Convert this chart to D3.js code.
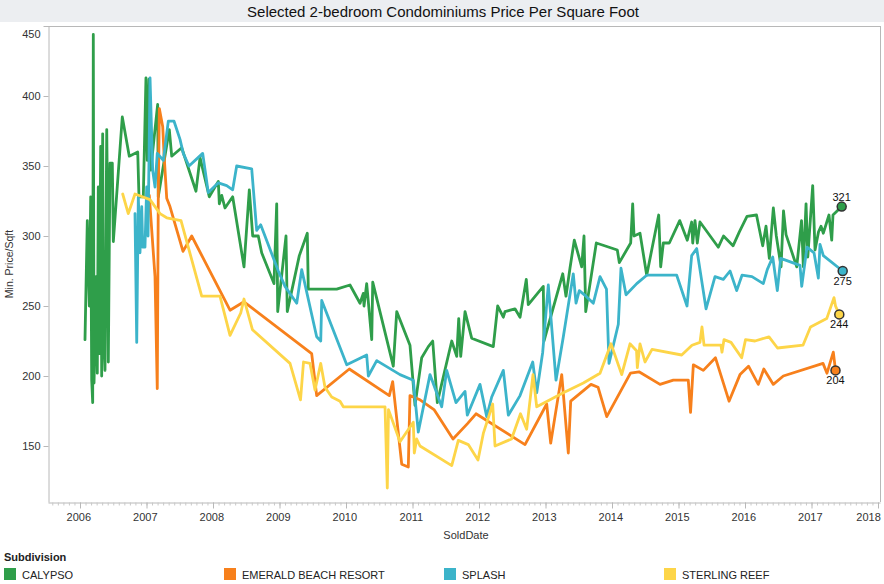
<!DOCTYPE html>
<html><head><meta charset="utf-8">
<script src="https://cdn.jsdelivr.net/npm/d3@7"></script>
<style>
html,body{margin:0;padding:0;background:#fff;}
svg{display:block;font-family:"Liberation Sans",Arial,sans-serif;}
</style></head>
<body><svg id="c" width="884" height="584"></svg>
<script>
// ---- DATA: [SoldDate as decimal year, min price per sqft] ----
const calypso = [[2006.075,226],[2006.110,311],[2006.140,250],[2006.161,328],[2006.176,197],[2006.191,181],[2006.200,444],[2006.211,195],[2006.241,271],[2006.260,202],[2006.275,335],[2006.290,216],[2006.311,364],[2006.326,200],[2006.341,373],[2006.350,238],[2006.376,204],[2006.402,376],[2006.411,335],[2006.426,210],[2006.451,352],[2006.486,352],[2006.501,296],[2006.636,385],[2006.741,357],[2006.868,360],[2006.887,328],[2006.952,328],[2006.992,413],[2007.012,354],[2007.038,412],[2007.063,347],[2007.168,394],[2007.177,328],[2007.343,376],[2007.379,357],[2007.529,363],[2007.744,332],[2007.805,356],[2007.944,328],[2008.080,339],[2008.095,323],[2008.131,329],[2008.180,320],[2008.296,328],[2008.466,278],[2008.546,333],[2008.597,300],[2008.681,300],[2008.732,288],[2008.917,266],[2008.958,323],[2008.973,246],[2009.098,300],[2009.117,246],[2009.298,286],[2009.418,302],[2009.433,262],[2009.860,262],[2010.060,265],[2010.211,252],[2010.260,259],[2010.271,250],[2010.311,266],[2010.387,226],[2010.402,267],[2010.711,207],[2010.763,246],[2010.962,222],[2011.038,179],[2011.138,213],[2011.238,221],[2011.304,225],[2011.373,181],[2011.590,225],[2011.665,214],[2011.695,241],[2011.725,214],[2011.790,246],[2011.890,227],[2012.215,221],[2012.281,250],[2012.366,242],[2012.391,246],[2012.541,248],[2012.617,242],[2012.711,269],[2012.741,251],[2012.967,264],[2012.977,225],[2013.259,273],[2013.308,257],[2013.368,277],[2013.433,297],[2013.544,278],[2013.579,300],[2013.605,246],[2013.764,295],[2014.080,290],[2014.110,281],[2014.281,295],[2014.311,323],[2014.331,300],[2014.421,302],[2014.522,272],[2014.702,315],[2014.732,278],[2014.772,295],[2014.862,295],[2015.018,311],[2015.132,297],[2015.198,310],[2015.214,295],[2015.248,311],[2015.283,295],[2015.323,310],[2015.599,292],[2015.677,300],[2015.820,293],[2015.915,303],[2016.030,314],[2016.173,315],[2016.266,293],[2016.316,307],[2016.366,284],[2016.426,320],[2016.471,300],[2016.542,278],[2016.579,318],[2016.617,301],[2016.778,278],[2016.850,311],[2016.877,278],[2016.918,323],[2016.944,285],[2017.018,336],[2017.053,290],[2017.106,303],[2017.143,307],[2017.178,302],[2017.263,315],[2017.304,297],[2017.323,315],[2017.454,321]];

const emerald = [[2007.042,329],[2007.128,271],[2007.162,191],[2007.177,325],[2007.193,391],[2007.244,378],[2007.263,359],[2007.304,327],[2007.353,321],[2007.549,289],[2007.680,300],[2008.256,247],[2008.466,253],[2009.484,216],[2009.559,186],[2010.050,205],[2010.651,186],[2010.702,196],[2010.838,137],[2010.937,135],[2010.962,186],[2011.113,183],[2011.323,176],[2011.609,155],[2011.827,166],[2011.955,173],[2012.692,151],[2013.018,180],[2013.078,152],[2013.244,201],[2013.343,145],[2013.379,182],[2013.684,194],[2013.790,192],[2013.921,171],[2014.278,202],[2014.406,203],[2014.722,194],[2014.922,197],[2015.147,197],[2015.181,174],[2015.223,208],[2015.373,204],[2015.556,213],[2015.760,182],[2015.925,201],[2016.053,207],[2016.200,194],[2016.283,205],[2016.426,194],[2016.576,200],[2017.173,209],[2017.233,202],[2017.328,217],[2017.361,204]];

const splash = [[2006.827,316],[2006.853,224],[2006.877,328],[2006.902,288],[2006.928,321],[2006.943,292],[2006.977,292],[2007.003,335],[2007.023,300],[2007.053,413],[2007.093,347],[2007.128,335],[2007.162,359],[2007.253,354],[2007.328,382],[2007.414,382],[2007.504,369],[2007.553,359],[2007.639,350],[2007.845,359],[2007.929,331],[2008.080,338],[2008.206,336],[2008.296,333],[2008.356,350],[2008.582,348],[2008.657,304],[2008.717,308],[2008.982,275],[2009.083,264],[2009.259,252],[2009.334,276],[2009.559,228],[2009.620,225],[2009.635,254],[2010.011,208],[2010.311,215],[2010.336,200],[2010.462,211],[2010.812,201],[2011.012,197],[2011.087,160],[2011.263,201],[2011.439,178],[2011.514,204],[2011.654,181],[2011.790,189],[2011.824,172],[2012.015,194],[2012.116,171],[2012.191,185],[2012.366,204],[2012.441,172],[2012.617,186],[2012.808,210],[2012.868,188],[2012.958,217],[2013.042,265],[2013.158,197],[2013.268,228],[2013.418,273],[2013.459,252],[2013.508,261],[2013.609,257],[2013.719,252],[2013.820,271],[2013.917,262],[2013.955,209],[2014.095,237],[2014.135,277],[2014.211,258],[2014.372,266],[2014.522,272],[2014.973,272],[2015.128,250],[2015.198,286],[2015.274,291],[2015.323,276],[2015.414,248],[2015.549,271],[2015.674,269],[2015.775,275],[2015.875,261],[2015.955,272],[2016.105,271],[2016.275,266],[2016.335,276],[2016.417,285],[2016.486,261],[2016.537,284],[2016.827,279],[2016.853,264],[2016.932,292],[2017.038,288],[2017.103,270],[2017.128,294],[2017.178,286],[2017.469,275]];

const sterling = [[2006.642,330],[2006.726,316],[2006.827,330],[2007.053,326],[2007.203,316],[2007.304,313],[2007.519,311],[2007.830,257],[2008.105,257],[2008.256,229],[2008.417,245],[2008.466,255],[2008.594,233],[2009.158,209],[2009.316,183],[2009.361,210],[2009.459,209],[2009.534,190],[2009.620,209],[2009.684,192],[2009.785,185],[2009.910,182],[2009.960,178],[2010.587,178],[2010.621,120],[2010.639,176],[2010.812,153],[2011.012,167],[2011.027,145],[2011.063,155],[2011.113,150],[2011.590,136],[2011.689,154],[2011.839,151],[2011.985,140],[2012.065,159],[2012.206,180],[2012.241,150],[2012.489,155],[2012.624,173],[2012.717,162],[2012.812,201],[2012.868,178],[2013.268,188],[2013.569,195],[2013.820,202],[2013.985,223],[2014.146,201],[2014.271,223],[2014.369,218],[2014.381,206],[2014.421,223],[2014.496,210],[2014.602,219],[2015.048,215],[2015.203,222],[2015.323,224],[2015.353,235],[2015.384,222],[2015.639,222],[2015.654,217],[2015.684,226],[2015.790,224],[2015.950,213],[2016.008,226],[2016.150,225],[2016.361,228],[2016.489,220],[2016.872,222],[2016.985,235],[2017.229,241],[2017.338,256],[2017.361,250],[2017.418,244]];

const seriesNames = ["CALYPSO","EMERALD BEACH RESORT","SPLASH","STERLING REEF"];
const seriesData = [calypso, emerald, splash, sterling];
const seriesColors = ["#2F9E4A","#F7801C","#3CB4CA","#FDD548"];
const labelPos = ["above","below","below","below"];
const yTicks = [150,200,250,300,350,400,450];
const xYears = [2006,2007,2008,2009,2010,2011,2012,2013,2014,2015,2016,2017,2018];

// ---- LAYOUT ----
const svg = d3.select("#c");
const L = 48, R = 880, T = 26, B = 502;
const axisCol = "#b8b8b8", textCol = "#333";

svg.append("rect").attr("x",0).attr("y",0).attr("width",884).attr("height",584).attr("fill","#fff");
svg.append("rect").attr("x",0).attr("y",0).attr("width",884).attr("height",22).attr("fill","#ECEEF1");
svg.append("text").attr("x",443).attr("y",17).attr("text-anchor","middle")
  .attr("font-size","15px").attr("fill","#111")
  .text("Selected 2-bedroom Condominiums Price Per Square Foot");

const x = d3.scaleLinear().domain([2006 - 32/66.5, 2006 + 800/66.5]).range([L, R]);
const y = d3.scaleLinear().domain([110, 450]).range([B, T]);

// frame
svg.append("line").attr("x1",L).attr("x2",R).attr("y1",T+0.5).attr("y2",T+0.5).attr("stroke",axisCol);
svg.append("line").attr("x1",R+0.5).attr("x2",R+0.5).attr("y1",T).attr("y2",B).attr("stroke",axisCol);

// y axis
const yAxis = d3.axisLeft(y).tickValues(yTicks).tickSize(5).tickSizeOuter(0).tickPadding(3);
const gy = svg.append("g").attr("transform",`translate(${L+0.5},0)`).call(yAxis);
gy.select(".domain").attr("stroke",axisCol);
gy.selectAll(".tick line").attr("stroke",axisCol);
gy.selectAll(".tick text").attr("fill",textCol).attr("font-size","11px")
  .attr("font-family","Liberation Sans, Arial, sans-serif")
  .attr("dy", d => d === 450 ? "1.0em" : "0.32em");

// x axis: monthly minor ticks + yearly major ticks
const months = [];
for (let yr = 2005; yr <= 2018; yr++) for (let m = 0; m < 12; m++) {
  const v = yr + m/12; if (v >= x.domain()[0] && v <= x.domain()[1]) months.push(v);
}
const gxm = svg.append("g").attr("transform",`translate(0,${B+0.5})`)
  .call(d3.axisBottom(x).tickValues(months).tickSize(3).tickSizeOuter(0).tickFormat(""));
gxm.select(".domain").attr("stroke",axisCol);
gxm.selectAll(".tick line").attr("stroke","#c8c8c8");
const gx = svg.append("g").attr("transform",`translate(0,${B+0.5})`)
  .call(d3.axisBottom(x).tickValues(xYears).tickSize(6).tickSizeOuter(0).tickPadding(5).tickFormat(d3.format("d")));
gx.select(".domain").remove();
gx.selectAll(".tick line").attr("stroke",axisCol);
gx.selectAll(".tick text").attr("fill",textCol).attr("font-size","11px")
  .attr("font-family","Liberation Sans, Arial, sans-serif")
  .attr("dx", d => d === 2018 ? "-0.9em" : "-0.15em");

// axis titles
svg.append("text").attr("x",466).attr("y",539).attr("text-anchor","middle")
  .attr("font-size","11px").attr("fill",textCol).text("SoldDate");
svg.append("text").attr("transform","translate(13,264) rotate(-90)").attr("text-anchor","middle")
  .attr("font-size","10.5px").attr("fill",textCol).text("Min. Price/Sqft");

// lines
const line = d3.line().x(d => x(d[0])).y(d => y(d[1]));
const plot = svg.append("g");
seriesData.forEach((s, i) => {
  plot.append("path").datum(s).attr("d", line).attr("fill","none")
    .attr("stroke", seriesColors[i]).attr("stroke-width",2.8)
    .attr("stroke-linejoin","round").attr("stroke-linecap","round");
});
// end markers
seriesData.forEach((s, i) => {
  const last = s[s.length-1];
  plot.append("circle").attr("cx",x(last[0])).attr("cy",y(last[1])).attr("r",4.5)
    .attr("fill",seriesColors[i]).attr("stroke","#333").attr("stroke-width",1.5);
  plot.append("text").attr("x",x(last[0])).attr("y",y(last[1]) + (labelPos[i]==="above" ? -6 : 14))
    .attr("text-anchor","middle").attr("font-size","11px").attr("fill","#111").text(last[1]);
});

// legend
svg.append("text").attr("x",4).attr("y",561).attr("font-size","11px").attr("font-weight","bold")
  .attr("fill","#222").text("Subdivision");
seriesNames.forEach((n, i) => {
  const g = svg.append("g").attr("transform",`translate(${4 + i*220},568)`);
  g.append("rect").attr("width",12).attr("height",12).attr("fill",seriesColors[i]);
  g.append("text").attr("x",18).attr("y",10.5).attr("font-size","11px").attr("fill","#222").text(n);
});
</script></body></html>
